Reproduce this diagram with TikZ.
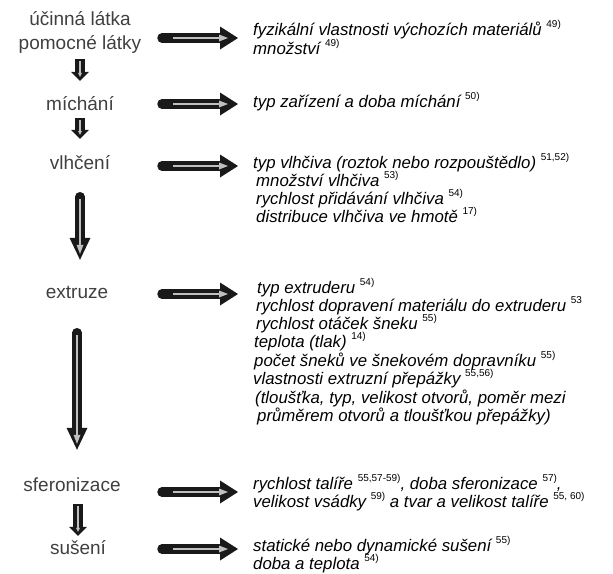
\documentclass[tikz,border=0pt]{standalone}
\usepackage{fontspec}
\setmainfont{Liberation Sans}
\usetikzlibrary{arrows.meta}

\newcommand{\lit}[1]{\raisebox{0.45em}{\fontsize{10}{10}\selectfont\upshape #1}}

\tikzset{
	krok/.style={anchor=base, inner sep=0pt, text height=14pt, text depth=4pt, text=black!75, font=\fontsize{19}{19}\selectfont},
	vliv/.style={anchor=base west, inner sep=0pt, font=\fontsize{16.8}{16.8}\selectfont\itshape},
	tok/.style={draw=black!90, line width=9.5pt, line cap=round, -{Triangle[length=18pt,width=23pt,line width=0pt]}},
	tokdl/.style={tok, -{Triangle[length=22pt,width=21pt,line width=0pt]}},
	tokkr/.style={tok, line cap=butt, -{Triangle[length=9pt,width=18pt,line width=0pt]}},
	tokin/.style={draw=black!25, line width=2.6pt, -{Triangle[length=9pt,width=7pt,line width=0pt]}},
	tokinkr/.style={tokin, line width=2pt, -{Triangle[length=4pt,width=4pt,line width=0pt]}},
}

\begin{document}
\begin{tikzpicture}[x=1pt,y=-1pt]
	\useasboundingbox (0,0) rectangle (613,573);

	\node[krok] (ucinna) at (80,25) {účinná látka};
	\node[krok] (pomocne) at (80,49) {pomocné látky};
	\node[krok] (michani) at (80,110) {míchání};
	\node[krok] (vlhceni) at (80,169) {vlhčení};
	\node[krok] (extruze) at (77,298) {extruze};
	\node[krok] (sferonizace) at (72,491) {sferonizace};
	\node[krok] (suseni) at (78,554) {sušení};

	\node[vliv] (f1) at (253,35) {fyzikální vlastnosti výchozích materiálů \lit{49)}};
	\node[vliv] (f1b) at (253,54) {množství \lit{49)}};
	\node[vliv] (f2) at (253,107) {typ zařízení a doba míchání \lit{50)}};
	\node[vliv] (f3) at (253,168) {typ vlhčiva (roztok nebo rozpouštědlo) \lit{51,52)}};
	\node[vliv] (f3b) at (256,186) {množství vlhčiva \lit{53)}};
	\node[vliv] (f3c) at (256,204) {rychlost přidávání vlhčiva \lit{54)}};
	\node[vliv] (f3d) at (256,222) {distribuce vlhčiva ve hmotě \lit{17)}};
	\node[vliv] (f4) at (257,293) {typ extruderu \lit{54)}};
	\node[vliv] (f4b) at (256,311) {rychlost dopravení materiálu do extruderu \lit{53}};
	\node[vliv] (f4c) at (256,329) {rychlost otáček šneku \lit{55)}};
	\node[vliv] (f4d) at (254,347) {teplota (tlak) \lit{14)}};
	\node[vliv] (f4e) at (254,366) {počet šneků ve šnekovém dopravníku \lit{55)}};
	\node[vliv] (f4f) at (253,384) {vlastnosti extruzní přepážky \lit{55,56)}};
	\node[vliv] (f4g) at (255,403) {(tloušťka, typ, velikost otvorů, poměr mezi};
	\node[vliv] (f4h) at (257,421) {průměrem otvorů a tloušťkou přepážky)};
	\node[vliv] (f5) at (253,489) {rychlost talíře \lit{55,57-59)}, doba sferonizace \lit{57)},};
	\node[vliv] (f5b) at (253,507) {velikost vsádky \lit{59)} a tvar a velikost talíře \lit{55, 60)}};
	\node[vliv] (f6) at (253,551) {statické nebo dynamické sušení \lit{55)}};
	\node[vliv] (f6b) at (253,569) {doba a teplota \lit{54)}};

	\draw[tokkr, shorten <=6pt, shorten >=15pt] (pomocne.south) -- (pomocne.south |- michani.north);
	\draw[tokinkr, shorten <=8pt, shorten >=19pt] (pomocne.south) -- (pomocne.south |- michani.north);
	\draw[tokkr, shorten <=4pt, shorten >=16pt] (michani.south) -- (michani.south |- vlhceni.north);
	\draw[tokinkr, shorten <=6pt, shorten >=20pt] (michani.south) -- (michani.south |- vlhceni.north);
	\draw[tokdl, shorten <=23.5pt, shorten >=24pt] (vlhceni.south) -- (vlhceni.south |- extruze.north);
	\draw[tokin, shorten <=26pt, shorten >=30pt] (vlhceni.south) -- (vlhceni.south |- extruze.north);
	\draw[tokdl, shorten <=30.5pt, shorten >=27pt] (extruze.south) -- (extruze.south |- sferonizace.north);
	\draw[tokin, shorten <=33pt, shorten >=33pt] (extruze.south) -- (extruze.south |- sferonizace.north);
	\draw[tokkr, shorten <=9pt, shorten >=4pt] (sferonizace.south -| suseni.north) -- (suseni.north);
	\draw[tokinkr, shorten <=11pt, shorten >=8pt] (sferonizace.south -| suseni.north) -- (suseni.north);

	\coordinate (h1) at (162,38);
	\coordinate (h2) at (162,104);
	\coordinate (h3) at (162,166);
	\coordinate (h4) at (162,294);
	\coordinate (h5) at (162,492);
	\coordinate (h6) at (162,549);
	\draw[tok, shorten >=15pt] (h1) -- (h1 -| f1.west);
	\draw[tokin, shorten <=11pt, shorten >=25pt] (h1) -- (h1 -| f1.west);
	\draw[tok, shorten >=15pt] (h2) -- (h2 -| f2.west);
	\draw[tokin, shorten <=11pt, shorten >=25pt] (h2) -- (h2 -| f2.west);
	\draw[tok, shorten >=15pt] (h3) -- (h3 -| f3.west);
	\draw[tokin, shorten <=11pt, shorten >=25pt] (h3) -- (h3 -| f3.west);
	\draw[tok, shorten >=19pt] (h4) -- (h4 -| f4.west);
	\draw[tokin, shorten <=11pt, shorten >=29pt] (h4) -- (h4 -| f4.west);
	\draw[tok, shorten >=15pt] (h5) -- (h5 -| f5.west);
	\draw[tokin, shorten <=11pt, shorten >=25pt] (h5) -- (h5 -| f5.west);
	\draw[tok, shorten >=15pt] (h6) -- (h6 -| f6.west);
	\draw[tokin, shorten <=11pt, shorten >=25pt] (h6) -- (h6 -| f6.west);
\end{tikzpicture}
\end{document}
